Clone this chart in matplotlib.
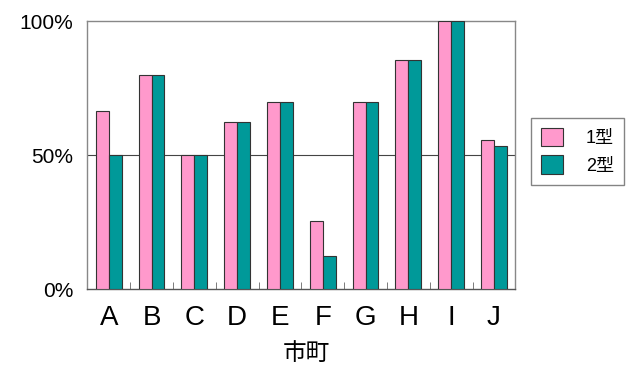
import matplotlib.pyplot as plt
import numpy as np

plt.rcParams['font.family'] = ['Liberation Sans', 'Noto Sans CJK JP', 'DejaVu Sans']

towns = ['A', 'B', 'C', 'D', 'E', 'F', 'G', 'H', 'I', 'J']
type1 = [66.7, 80.0, 50.0, 62.5, 70.0, 25.5, 70.0, 85.7, 100.0, 55.6]
type2 = [50.0, 80.0, 50.0, 62.5, 70.0, 12.5, 70.0, 85.7, 100.0, 53.3]
series_names = ['1型', '2型']
pink = '#ff99cc'
teal = '#009999'

fig = plt.figure(figsize=(6.3, 3.65), dpi=100)
ax = fig.add_axes([0.1386, 0.2074, 0.818 - 0.1386, 0.9416 - 0.2074])

x = np.arange(len(towns))
w = 0.3
b1 = ax.bar(x - w / 2, type1, w, color=pink, edgecolor='#333333', linewidth=0.8, zorder=3)
b2 = ax.bar(x + w / 2, type2, w, color=teal, edgecolor='#333333', linewidth=0.8, zorder=3)

ax.set_xlim(-0.5, len(towns) - 0.5)
ax.set_ylim(0, 100)
ax.set_yticks([0, 50, 100])
ax.set_yticklabels(['0%', '50%', '100%'], fontsize=15)
ax.axhline(50, color='#444444', linewidth=0.8, zorder=1)

ax.set_xticks(x)
ax.set_xticklabels(towns, fontsize=20)
ax.set_xticks(np.arange(len(towns) + 1) - 0.5, minor=True)
ax.tick_params(axis='x', which='major', length=0, pad=11)
ax.tick_params(axis='x', which='minor', direction='in', length=5, color='#666666')
ax.tick_params(axis='y', length=0, pad=10)
ax.set_xlabel('市町', fontsize=17, labelpad=9)
ax.xaxis.label.set_x(0.512)

for s in ax.spines.values():
    s.set_color('#888888')
    s.set_linewidth(1.0)
ax.spines['bottom'].set_color('#555555')

leg = fig.legend([b1, b2], series_names, loc='upper left',
                 bbox_to_anchor=(531 / 630, 1 - 118 / 365), fontsize=13,
                 frameon=True, fancybox=False, edgecolor='#666666',
                 handlelength=1.2, handleheight=1.2, handletextpad=1.3,
                 borderpad=0.55, labelspacing=0.45, borderaxespad=0)
leg.get_frame().set_linewidth(1.0)

fig.savefig('out.png', dpi=100)
